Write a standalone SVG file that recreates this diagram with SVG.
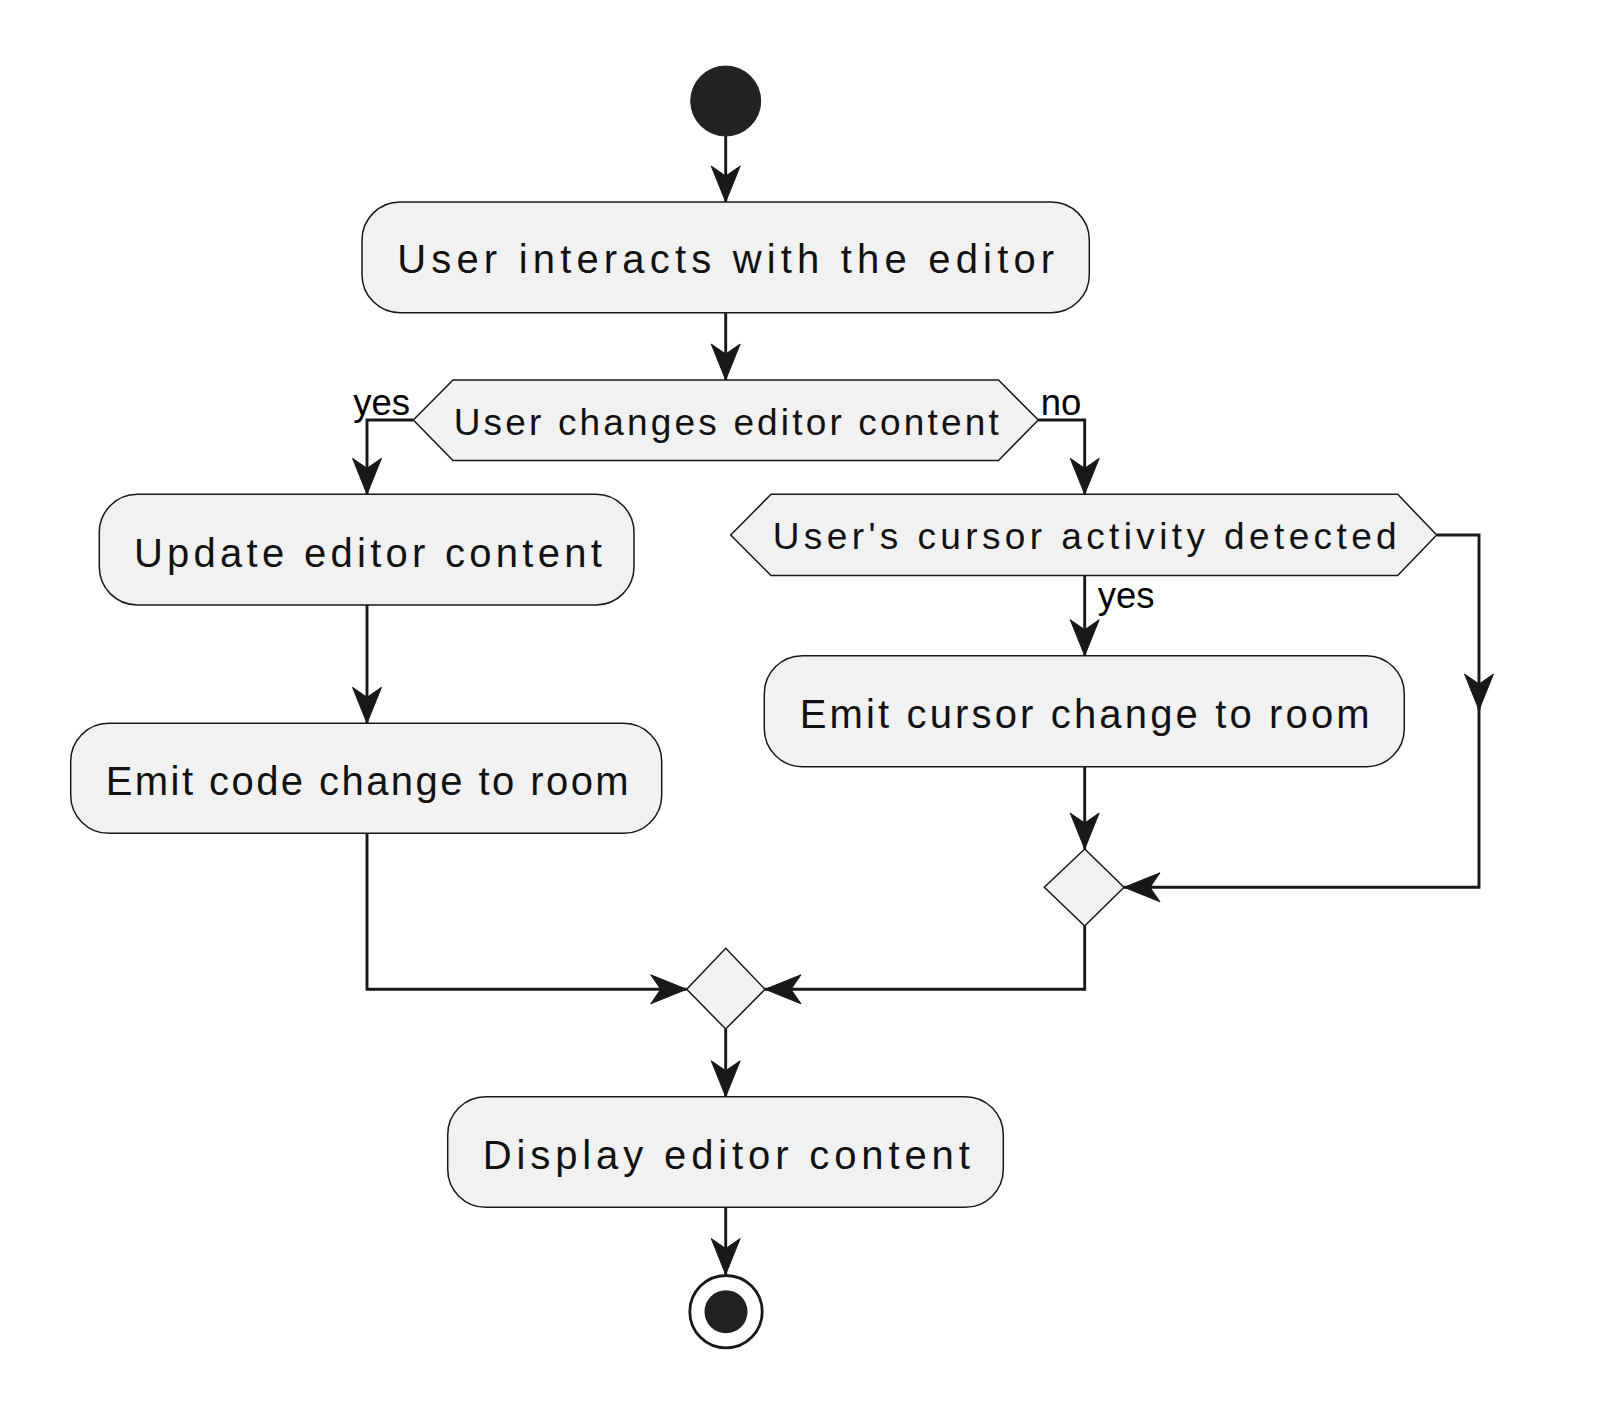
<svg xmlns="http://www.w3.org/2000/svg" width="1600" height="1418" viewBox="0 0 1600 1418">
<style>
.node{fill:#F1F1F1;stroke:#181818;stroke-width:1.5}
.conn{fill:none;stroke:#181818;stroke-width:2.9}
.t{font-family:"Liberation Sans",Arial,sans-serif;fill:#111;text-anchor:middle}
.big{font-size:40px}
.mid{font-size:37px}
.lbl{font-family:"Liberation Sans",Arial,sans-serif;font-size:36.5px;fill:#000}
</style>
<defs>
<marker id="ah" markerUnits="userSpaceOnUse" markerWidth="40" markerHeight="32" refX="38" refY="16" orient="auto" overflow="visible">
<path d="M38,16 L2,1.5 L12,16 L2,30.5 Z" fill="#181818" stroke="#181818" stroke-width="1"/>
</marker>
</defs>
<rect width="1600" height="1418" fill="#FFFFFF"/>
<g id="connectors">
<path class="conn" d="M725.7,136 V202" marker-end="url(#ah)"/>
<path class="conn" d="M725.7,312.7 V380" marker-end="url(#ah)"/>
<path class="conn" d="M413.3,420 H367 V494.3" marker-end="url(#ah)"/>
<path class="conn" d="M367,605 V723.3" marker-end="url(#ah)"/>
<path class="conn" d="M367,833.3 V989.3 H686.7" marker-end="url(#ah)"/>
<path class="conn" d="M1038.3,420 H1084.7 V494.3" marker-end="url(#ah)"/>
<path class="conn" d="M1084.7,575.5 V655.7" marker-end="url(#ah)"/>
<path class="conn" d="M1436.7,535 H1479 V710" marker-end="url(#ah)"/>
<path class="conn" d="M1479,705 V887.3 H1124" marker-end="url(#ah)"/>
<path class="conn" d="M1084.7,766.7 V849" marker-end="url(#ah)"/>
<path class="conn" d="M1084.7,926 V989.3 H765" marker-end="url(#ah)"/>
<path class="conn" d="M725.7,1029 V1096.7" marker-end="url(#ah)"/>
<path class="conn" d="M725.7,1207.3 V1274.5" marker-end="url(#ah)"/>
<text class="lbl" x="353.3" y="415">yes</text>
<text class="lbl" x="1040.7" y="415">no</text>
<text class="lbl" x="1097.7" y="608">yes</text>
</g>
<g id="start">
<circle cx="725.7" cy="101" r="35" fill="#222222" stroke="#222222" stroke-width="1"/>
</g>
<g id="interact">
<rect class="node" x="362" y="202" width="727.3" height="110.7" rx="38" ry="38"/>
<text class="t big" x="725.7" y="272.7" textLength="657" lengthAdjust="spacing">User interacts with the editor</text>
</g>
<g id="changes">
<polygon class="node" points="413.3,420 453,380 998.5,380 1038.3,420 998.5,460.5 453,460.5"/>
<text class="t mid" x="726.2" y="435" textLength="545" lengthAdjust="spacing">User changes editor content</text>
</g>
<g id="update">
<rect class="node" x="99.3" y="494.3" width="534.7" height="110.7" rx="38" ry="38"/>
<text class="t big" x="367.9" y="567.3" textLength="468" lengthAdjust="spacing">Update editor content</text>
</g>
<g id="emitcode">
<rect class="node" x="70.7" y="723.3" width="591" height="110" rx="38" ry="38"/>
<text class="t big" x="367.2" y="795" textLength="523" lengthAdjust="spacing">Emit code change to room</text>
</g>
<g id="cursor">
<polygon class="node" points="730.7,535 771,494.3 1397.7,494.3 1436.7,535 1397.7,575.5 771,575.5"/>
<text class="t mid" x="1084.7" y="549.3" textLength="624" lengthAdjust="spacing">User's cursor activity detected</text>
</g>
<g id="emitcursor">
<rect class="node" x="764.3" y="655.7" width="640" height="111" rx="38" ry="38"/>
<text class="t big" x="1084.7" y="728.3" textLength="570" lengthAdjust="spacing">Emit cursor change to room</text>
</g>
<g id="merge1">
<polygon class="node" points="1084.7,849 1124,887.3 1084.7,926 1044.3,887.3"/>
</g>
<g id="merge2">
<polygon class="node" points="725.7,948.3 765,989.3 725.7,1029 686.7,989.3"/>
</g>
<g id="display">
<rect class="node" x="447.7" y="1096.7" width="555.6" height="110.6" rx="38" ry="38"/>
<text class="t big" x="726.3" y="1169" textLength="487" lengthAdjust="spacing">Display editor content</text>
</g>
<g id="end">
<circle cx="726" cy="1311.7" r="36.2" fill="#FFFFFF" stroke="#181818" stroke-width="2.8"/>
<circle cx="726" cy="1311.7" r="21.5" fill="#222222"/>
</g>
</svg>
